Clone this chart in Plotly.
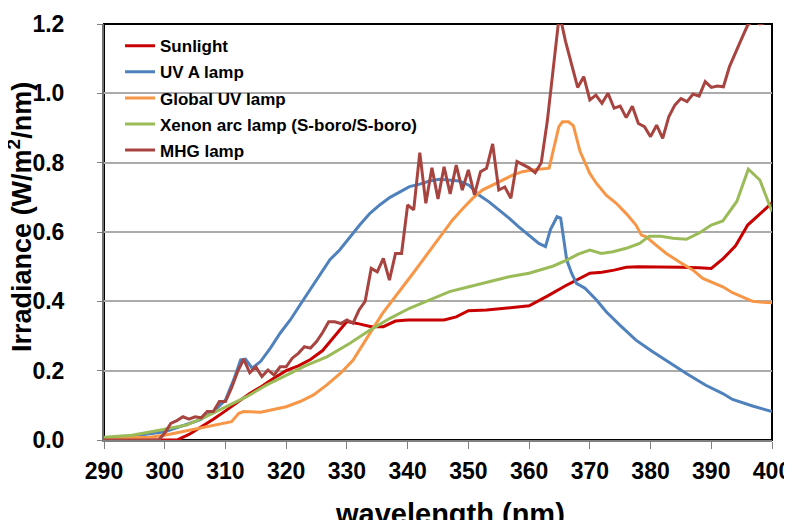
import plotly.graph_objects as go

# ---- data ----
sun_x = [290, 302, 304, 306, 308, 310, 312, 314, 316, 318, 320, 322, 324, 326, 328, 329, 330,
         332, 334, 336, 338, 340, 344, 346, 348, 350, 353, 356, 360, 363, 366, 370, 372, 374,
         376, 378, 382, 385, 388, 390, 392, 394, 396, 398, 400]
sun_y = [0, 0, 0.016, 0.037, 0.06, 0.084, 0.11, 0.134, 0.155, 0.179, 0.2, 0.214, 0.232, 0.258,
         0.3, 0.322, 0.342, 0.335, 0.327, 0.327, 0.343, 0.346, 0.346, 0.346, 0.355, 0.373, 0.375,
         0.38, 0.387, 0.415, 0.445, 0.481, 0.484, 0.49, 0.498, 0.5, 0.5, 0.498, 0.497, 0.495,
         0.524, 0.56, 0.62, 0.653, 0.684]

uva_x = [290, 295, 300, 302.5, 305.8, 308, 310, 311.5, 312.5, 313.3, 314.4, 315.8, 317.4, 319,
         320.7, 322.3, 323.9, 325.6, 327.2, 328.8, 330.5, 332.1, 333.8, 335.4, 337.1, 338.7,
         340.3, 342, 343.6, 345.2, 346.9, 348.5, 350.1, 351.8, 353.4, 355.1, 356.7, 358.3, 360,
         361.6, 362.7, 363.5, 364.6, 365.2, 366.2, 367, 367.8, 369.2, 371.1, 372.7, 374.9, 377.6,
         380.3, 383.7, 385.9, 389.1, 391.9, 393.5, 396.8, 400]
uva_y = [0.005, 0.012, 0.024, 0.039, 0.058, 0.082, 0.115, 0.18, 0.231, 0.233, 0.207, 0.227,
         0.265, 0.308, 0.347, 0.39, 0.433, 0.48, 0.52, 0.548, 0.586, 0.62, 0.654, 0.678, 0.7,
         0.716, 0.731, 0.738, 0.747, 0.752, 0.75, 0.747, 0.735, 0.706, 0.687, 0.664, 0.64, 0.615,
         0.591, 0.567, 0.558, 0.606, 0.644, 0.64, 0.519, 0.481, 0.452, 0.438, 0.404, 0.37, 0.332,
         0.288, 0.255, 0.216, 0.192, 0.158, 0.134, 0.117, 0.098, 0.082]

glob_x = [290, 297.5, 300, 303.6, 306.7, 309.5, 311, 312.2, 313, 315.8, 317.9, 320, 322.3, 324.5,
          326.7, 328.9, 331, 332.7, 334.3, 335.9, 337.6, 339.2, 340.9, 342.5, 344.1, 345.8, 347.4,
          349.1, 350.7, 352.3, 354, 355.6, 357.3, 358.9, 360.5, 363.3, 364.1, 364.9, 365.5, 366.5,
          367.3, 368.4, 370, 371.1, 372.7, 374.4, 376, 377.6, 378.5, 379.3, 380.9, 382.6, 384.7,
          387, 388.6, 390.2, 391.9, 393.5, 395.2, 396.8, 398.5, 400]
glob_y = [0.005, 0.008, 0.014, 0.027, 0.038, 0.048, 0.053, 0.077, 0.082, 0.08, 0.087, 0.096,
          0.111, 0.13, 0.159, 0.192, 0.23, 0.279, 0.322, 0.366, 0.404, 0.442, 0.481, 0.519, 0.558,
          0.596, 0.635, 0.668, 0.697, 0.721, 0.735, 0.75, 0.764, 0.774, 0.779, 0.784, 0.846, 0.904,
          0.918, 0.918, 0.906, 0.832, 0.769, 0.74, 0.706, 0.682, 0.653, 0.62, 0.591, 0.586, 0.562,
          0.538, 0.514, 0.49, 0.466, 0.454, 0.442, 0.425, 0.411, 0.4, 0.397, 0.396]

xen_x = [290, 294.6, 300, 303.6, 306.7, 310, 313.5, 316.8, 320, 323.4, 326.7, 330.5, 333.8, 337.1,
         340.3, 343.6, 346.9, 350.1, 353.4, 356.7, 360, 361.8, 364, 366.2, 368.1, 370, 371.9, 373.8,
         376, 378.2, 379.8, 381.7, 383.7, 385.9, 388.1, 390, 391.9, 394.2, 396.1, 398, 400]
xen_y = [0.008, 0.014, 0.031, 0.043, 0.067, 0.096, 0.125, 0.159, 0.187, 0.216, 0.24, 0.279, 0.317,
         0.351, 0.38, 0.404, 0.428, 0.442, 0.457, 0.471, 0.481, 0.49, 0.502, 0.519, 0.536, 0.548,
         0.538, 0.543, 0.553, 0.567, 0.588, 0.588, 0.582, 0.579, 0.598, 0.62, 0.632, 0.688, 0.781,
         0.75, 0.659]

mhg_x = [290, 299, 300, 301, 302, 303, 304, 305, 306, 307, 308, 309, 310, 311, 312, 313, 314, 315,
         316, 317, 318, 319, 320, 321, 322, 323, 324, 325, 326, 327, 328, 329, 330, 331, 332, 333,
         334, 335, 336, 337, 338, 339, 340, 341, 342, 343, 344, 345, 346, 347, 348, 349, 350, 351,
         352, 353, 354, 355, 356, 357, 358, 359, 360, 361, 362, 363, 364, 365, 366, 367, 368, 369,
         370, 371, 372, 373, 374, 375, 376, 377, 378, 379, 380, 381, 382, 383, 384, 385, 386, 387,
         388, 389, 390, 391, 392, 393, 394, 395, 396, 397, 398, 399, 400]
mhg_y = [0, 0, 0.02, 0.048, 0.056, 0.067, 0.06, 0.067, 0.064, 0.082, 0.082, 0.111, 0.111, 0.15,
         0.197, 0.233, 0.194, 0.211, 0.183, 0.202, 0.187, 0.211, 0.211, 0.236, 0.25, 0.269, 0.265,
         0.284, 0.31, 0.341, 0.341, 0.336, 0.346, 0.337, 0.375, 0.4, 0.495, 0.485, 0.524, 0.461,
         0.538, 0.538, 0.678, 0.664, 0.829, 0.683, 0.785, 0.695, 0.788, 0.71, 0.793, 0.721, 0.779,
         0.707, 0.774, 0.784, 0.854, 0.721, 0.73, 0.697, 0.803, 0.795, 0.785, 0.771, 0.8, 0.92, 1.08,
         1.23, 1.15, 1.08, 1.017, 1.048, 0.981, 0.995, 0.971, 1.0, 0.957, 0.963, 0.93, 0.963, 0.913,
         0.904, 0.875, 0.908, 0.87, 0.932, 0.966, 0.985, 0.976, 0.998, 0.992, 1.034, 1.017, 1.021,
         1.019, 1.077, 1.115, 1.158, 1.197, 1.21, 1.2, 1.205, 1.21]

names = ["Sunlight", "UV A lamp", "Global UV lamp", "Xenon arc lamp (S-boro/S-boro)", "MHG lamp"]
colors = ["#C80000", "#4F81BD", "#F79646", "#9BBB59", "#A84440"]
series = [(sun_x, sun_y), (uva_x, uva_y), (glob_x, glob_y), (xen_x, xen_y), (mhg_x, mhg_y)]

x_ticks = [290, 300, 310, 320, 330, 340, 350, 360, 370, 380, 390, 400]
y_ticks = [0.0, 0.2, 0.4, 0.6, 0.8, 1.0, 1.2]

FONT = "Liberation Sans, Arial, sans-serif"

fig = go.Figure()
for (xs, ys), name, col in zip(series, names, colors):
    fig.add_trace(go.Scatter(x=xs, y=ys, mode="lines", name=name, legendgroup=name,
                             line=dict(color=col, width=3)))

# the page body has an 8px margin: figure is sized to fit inside the 792x520 window
fig.update_layout(
    width=784, height=512,
    margin=dict(l=96, r=20, t=16, b=80),
    paper_bgcolor="white", plot_bgcolor="white",
    showlegend=True,
    legend=dict(x=0.024, y=0.99, xanchor="left", yanchor="top",
                bgcolor="rgba(0,0,0,0)", tracegroupgap=1,
                font=dict(family=FONT, size=17, color="black", weight="bold")),
    xaxis=dict(range=[290, 400], tickvals=x_ticks, ticktext=[str(v) for v in x_ticks],
               showgrid=False, zeroline=False, showline=True, linecolor="#808080",
               linewidth=2, ticks="outside", ticklen=7, tickcolor="#808080", tickwidth=1,
               ticklabelstandoff=2, automargin=False,
               tickfont=dict(family=FONT, size=23, color="black", weight="bold")),
    yaxis=dict(range=[0, 1.2], tickvals=y_ticks, ticktext=[f"{v:.1f}" for v in y_ticks],
               showgrid=True, gridcolor="#ABABAB", gridwidth=1.5, zeroline=False,
               showline=True, linecolor="#707070", linewidth=2, ticks="outside", ticklen=5,
               tickcolor="#808080", ticklabelstandoff=28, automargin=False,
               tickfont=dict(family=FONT, size=23, color="black", weight="bold")),
    shapes=[dict(type="rect", xref="paper", yref="paper", x0=0, x1=1, y0=0, y1=1,
                 line=dict(color="black", width=2), layer="below")],
    annotations=[
        dict(text="wavelength (nm)", xref="paper", yref="paper", x=0.518, y=-0.135,
             xanchor="center", yanchor="top", showarrow=False,
             font=dict(family=FONT, size=29, color="black", weight="bold")),
        dict(text="Irradiance (W/m<sup>2</sup>/nm)", xref="paper", yref="paper",
             x=-0.125, y=0.535, xanchor="center", yanchor="middle", textangle=-90,
             showarrow=False,
             font=dict(family=FONT, size=27, color="black", weight="bold")),
    ],
)

fig.write_html("out.html")
